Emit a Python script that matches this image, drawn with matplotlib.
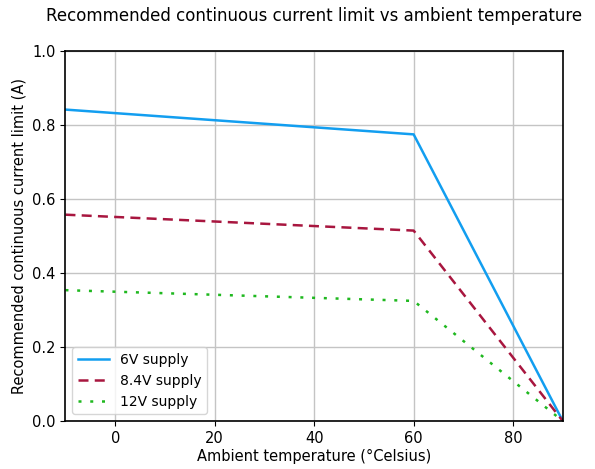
import matplotlib
matplotlib.use("Agg")
import matplotlib.pyplot as plt

temps = [-10, 60, 90]
i_6v = [0.842, 0.775, 0.0]
i_8v4 = [0.558, 0.515, 0.0]
i_12v = [0.354, 0.325, 0.0]

plt.rcParams['font.size'] = 10.5

fig, ax = plt.subplots(figsize=(5.95, 4.69), dpi=100)
ax.plot(temps, i_6v, color='#129ef0', lw=1.8, label='6V supply')
ax.plot(temps, i_8v4, color='#a8163f', lw=1.8, ls=(0, (4, 2.5)), label='8.4V supply')
ax.plot(temps, i_12v, color='#1fb81f', lw=1.8, ls=(0, (1.2, 3.5)), label='12V supply')

ax.set_xlim(-10, 90)
ax.set_ylim(0, 1.0)
ax.set_xticks([0, 20, 40, 60, 80])
ax.set_yticks([0.0, 0.2, 0.4, 0.6, 0.8, 1.0])
ax.grid(True, color='#c4c4c4', lw=1)
for s in ax.spines.values():
    s.set_linewidth(1.2)
ax.set_xlabel('Ambient temperature (°Celsius)', fontsize=10.5, labelpad=2)
ax.set_ylabel('Recommended continuous current limit (A)', fontsize=10.5)
ax.set_title('Recommended continuous current limit vs ambient temperature', fontsize=12, pad=22)
ax.legend(loc='lower left', fontsize=10, handlelength=2.2)

fig.subplots_adjust(left=0.11, right=0.946, top=0.891, bottom=0.102)
fig.savefig('out.png', dpi=100)
